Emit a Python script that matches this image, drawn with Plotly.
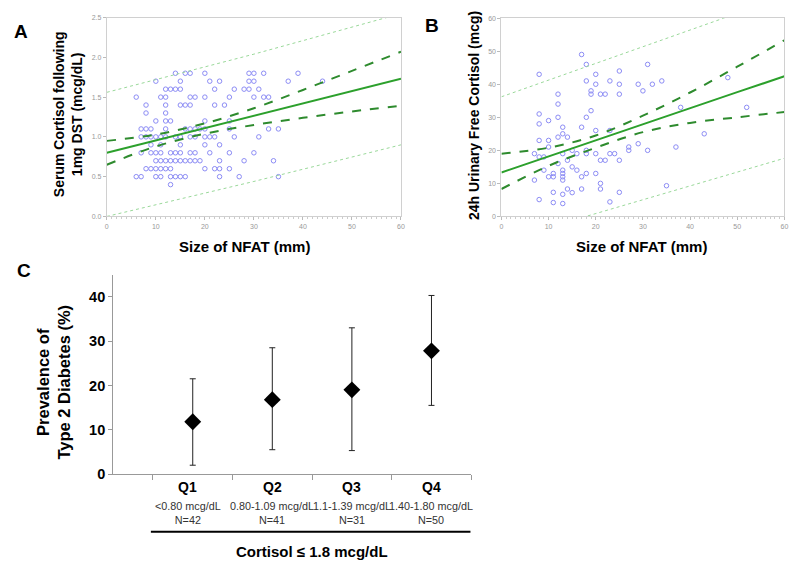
import plotly.graph_objects as go

FONT = "Arial, Liberation Sans, sans-serif"

# ---- Panel A: serum cortisol after 1mg DST vs NFAT size ----
a_x = [14, 16, 17, 20, 29, 30, 32, 39,
       10, 15, 21, 23, 29, 30, 37, 44,
       12, 13, 14, 15, 22, 26, 28, 29, 31,
       6, 11, 12, 17, 18, 20, 25, 30, 32, 33,
       8, 12, 15, 16, 17, 22, 24,
       8, 12,
       10, 12, 13, 20, 25,
       7, 8, 9, 12, 16, 17, 18, 19, 20, 25, 33, 35,
       7, 8, 9, 10, 11, 12, 14, 15, 17, 18, 20, 21, 22, 26, 31,
       9, 11, 15, 20, 23,
       7, 9, 10, 11, 13, 14, 15, 17, 18, 21, 25, 30,
       10, 11, 12, 13, 14, 15, 16, 17, 18, 19, 23, 28, 34,
       8, 9, 10, 11, 12, 13, 20, 22, 23, 25,
       6, 7, 10, 11, 13, 14, 15, 16, 23, 27, 35,
       13]
a_y = ([1.8] * 8 + [1.7] * 8 + [1.6] * 9 + [1.5] * 10 + [1.4] * 7 + [1.3] * 2
       + [1.2] * 5 + [1.1] * 12 + [1.0] * 15 + [0.9] * 5 + [0.8] * 12
       + [0.7] * 13 + [0.6] * 10 + [0.5] * 11 + [0.4] * 1)

line_x = [0, 10, 20, 30, 40, 50, 60]
a_fit = [0.80, 0.955, 1.11, 1.265, 1.42, 1.57, 1.73]
a_ci_hi = [0.95, 1.03, 1.17, 1.36, 1.59, 1.83, 2.07]
a_ci_lo = [0.65, 0.88, 1.04, 1.15, 1.24, 1.32, 1.39]
pi_x = [0, 30, 60]
a_pi_hi = [1.56, 2.04, 2.55]
a_pi_lo = [0.0, 0.44, 0.90]

# ---- Panel B: 24h urinary free cortisol vs NFAT size ----
b_pts = [(8, 43), (17, 49), (18, 46), (18, 41), (20, 43), (20, 40), (19, 38), (19, 37),
         (21, 37), (22, 37), (23, 41), (25, 44), (25, 40), (25, 37), (29, 40), (30, 38),
         (31, 46), (32, 40), (34, 41), (12, 37), (12, 34), (8, 31), (8, 28), (10, 29),
         (12, 30), (13, 27), (19, 32), (18, 30), (17, 27), (20, 26), (23, 26), (13, 25),
         (12, 24), (14, 24), (8, 23), (10, 23), (10, 21), (7, 19), (8, 18), (9, 18),
         (13, 19), (15, 20), (16, 19), (14, 17), (12, 16), (18, 20), (18, 19), (20, 19),
         (21, 17), (22, 17), (23, 19), (24, 19), (25, 17), (27, 21), (27, 20), (29, 22),
         (31, 20), (37, 21), (38, 33), (43, 25), (48, 42), (52, 33), (35, 9.3), (7, 11),
         (10, 12), (11, 12), (11, 13), (13, 14), (13, 13), (13, 12), (13, 11), (9, 14),
         (17, 12), (16, 14), (15, 15), (18, 13), (20, 13), (21, 10), (21, 8.3), (17, 8.3),
         (14, 8.3), (15, 7.2), (11, 7.3), (13, 6.7), (8, 5.1), (11, 4.2), (13, 3.9),
         (23, 4.4), (25, 7.3)]
b_x = [p[0] for p in b_pts]
b_y = [p[1] for p in b_pts]

b_fit = [13.3, 18.2, 23.0, 27.9, 32.7, 37.6, 42.4]
b_ci_hi = [19.0, 20.8, 24.5, 30.5, 37.5, 45.3, 53.3]
b_ci_lo = [8.3, 15.3, 20.8, 25.5, 28.3, 30.0, 31.6]
b_pi_hi = [36.2, 51.3, 66.5]
b_pi_lo = [-7.5, 5.0, 17.6]

# ---- Panel C: prevalence of T2D by cortisol quartile ----
quartiles = ["Q1", "Q2", "Q3", "Q4"]
ranges = ["<0.80 mcg/dL", "0.80-1.09 mcg/dL", "1.1-1.39 mcg/dL", "1.40-1.80 mcg/dL"]
counts = ["N=42", "N=41", "N=31", "N=50"]
prev = [11.8, 16.8, 19.0, 27.8]
ci_lo = [2.0, 5.5, 5.3, 15.5]
ci_hi = [21.5, 28.5, 33.0, 40.3]
q_pos = [1, 2, 3, 4]

SCAT = "#8c8cf5"
FIT = "#2ca02c"
CI = "#2e8b2e"
PI = "#9ad89a"

fig = go.Figure()


def add_regression(fig, xs, ys, fit, hi, lo, phi, plo, xa, ya):
    fig.add_trace(go.Scatter(x=xs, y=ys, mode="markers", xaxis=xa, yaxis=ya,
                             marker=dict(symbol="circle-open", size=4.5, color=SCAT,
                                         line=dict(width=1, color=SCAT)),
                             showlegend=False))
    fig.add_trace(go.Scatter(x=pi_x, y=phi, mode="lines", xaxis=xa, yaxis=ya,
                             line=dict(color=PI, width=1, dash="dot"), showlegend=False))
    fig.add_trace(go.Scatter(x=pi_x, y=plo, mode="lines", xaxis=xa, yaxis=ya,
                             line=dict(color=PI, width=1, dash="dot"), showlegend=False))
    for band in (hi, lo):
        fig.add_trace(go.Scatter(x=line_x, y=band, mode="lines", xaxis=xa, yaxis=ya,
                                 line=dict(color=CI, width=2, dash="dash", shape="spline"),
                                 showlegend=False))
    fig.add_trace(go.Scatter(x=line_x, y=fit, mode="lines", xaxis=xa, yaxis=ya,
                             line=dict(color=FIT, width=2), showlegend=False))


add_regression(fig, a_x, a_y, a_fit, a_ci_hi, a_ci_lo, a_pi_hi, a_pi_lo, "x", "y")
add_regression(fig, b_x, b_y, b_fit, b_ci_hi, b_ci_lo, b_pi_hi, b_pi_lo, "x2", "y2")

fig.add_trace(go.Scatter(
    x=q_pos, y=prev, mode="markers", xaxis="x3", yaxis="y3",
    marker=dict(symbol="diamond", size=13, color="black"),
    error_y=dict(type="data", symmetric=False,
                 array=[h - p for h, p in zip(ci_hi, prev)],
                 arrayminus=[p - l for p, l in zip(prev, ci_lo)],
                 color="#222", thickness=1, width=3),
    showlegend=False))

small_tick = dict(size=7, color="#999", family=FONT)
frame = dict(showline=True, linecolor="#d0d0d0", mirror=True, showgrid=False,
             zeroline=False, ticks="outside", ticklen=3, tickcolor="#bbb",
             tickfont=small_tick)
xmin = dict(minor=dict(ticks="outside", ticklen=2, dtick=1, tickcolor="#ccc"))

fig.update_layout(
    width=800, height=577,
    paper_bgcolor="white", plot_bgcolor="white",
    margin=dict(l=0, r=0, t=0, b=0),
    font=dict(family=FONT),
    xaxis=dict(domain=[0.132, 0.5025], range=[0, 60], tickvals=[0, 10, 20, 30, 40, 50, 60],
               anchor="y", **frame, **xmin),
    yaxis=dict(domain=[0.624, 0.976], range=[0, 2.5], tickvals=[0, 0.5, 1, 1.5, 2, 2.5],
               tickformat=".1f", anchor="x", **frame),
    xaxis2=dict(domain=[0.629, 0.9854], range=[0, 60], tickvals=[0, 10, 20, 30, 40, 50, 60],
                anchor="y2", **frame, **xmin),
    yaxis2=dict(domain=[0.624, 0.975], range=[0, 60], tickvals=[0, 10, 20, 30, 40, 50, 60],
                anchor="x2", **frame),
    xaxis3=dict(domain=[0.14, 0.591], range=[0, 4.5], anchor="y3",
                tickvals=[0.5, 1.5, 2.5, 3.5, 4.5], showticklabels=False,
                ticks="outside", ticklen=5, tickcolor="#999",
                showline=True, linecolor="#999", showgrid=False, zeroline=False),
    yaxis3=dict(domain=[0.168, 0.521], range=[0, 45], anchor="x3",
                tickvals=[0, 10, 20, 30, 40], ticks="outside", ticklen=4, tickcolor="#999",
                showline=True, linecolor="#999", showgrid=False, zeroline=False,
                tickfont=dict(size=14.5, color="black", family=FONT, weight="bold")),
)

ann = []


def paper_text(text, x, y, size, bold=True, angle=0, color="black"):
    ann.append(dict(text=text, x=x / 800, y=1 - y / 577, xref="paper", yref="paper",
                    showarrow=False, textangle=angle, xanchor="center", yanchor="middle",
                    font=dict(size=size, color=color, family=FONT,
                              weight="bold" if bold else "normal")))


paper_text("A", 19, 28, 19)
paper_text("B", 433, 22, 19)
paper_text("C", 22, 272, 19)
paper_text("Serum Cortisol following<br>1mg DST (mcg/dL)", 66, 113, 14, angle=-90)
paper_text("24h Urinary Free Cortisol (mcg)", 475, 114, 14, angle=-90)
paper_text("Size of NFAT (mm)", 244, 248, 15)
paper_text("Size of NFAT (mm)", 644, 248, 15)
paper_text("Prevalence of<br>Type 2 Diabetes (%)", 52, 386, 16.5, angle=-90)
paper_text("Cortisol \u2264 1.8 mcg/dL", 312, 559, 15)

for q, r, n, p in zip(quartiles, ranges, counts, q_pos):
    shift = -5 if p == 1 else 0
    ann.append(dict(text=q, x=p, y=1 - 493 / 577, xref="x3", yref="paper", showarrow=False,
                    xanchor="center", yanchor="middle", xshift=shift,
                    font=dict(size=14, color="black", family=FONT, weight="bold")))
    ann.append(dict(text=r + "<br>" + n, x=p, y=1 - 519.5 / 577, xref="x3", yref="paper",
                    showarrow=False, xanchor="center", yanchor="middle", xshift=shift,
                    font=dict(size=10.8, color="#333", family=FONT)))

fig.update_layout(annotations=ann)
fig.add_shape(type="line", xref="paper", yref="paper", x0=150 / 800, x1=472 / 800,
              y0=1 - 539 / 577, y1=1 - 539 / 577, line=dict(color="black", width=2))

# drop the default page margin so the 800x577 figure fills the window exactly
fig.write_html("out.html", config={"displayModeBar": False},
               post_script="document.body.style.margin='0';document.body.style.overflow='hidden';")
